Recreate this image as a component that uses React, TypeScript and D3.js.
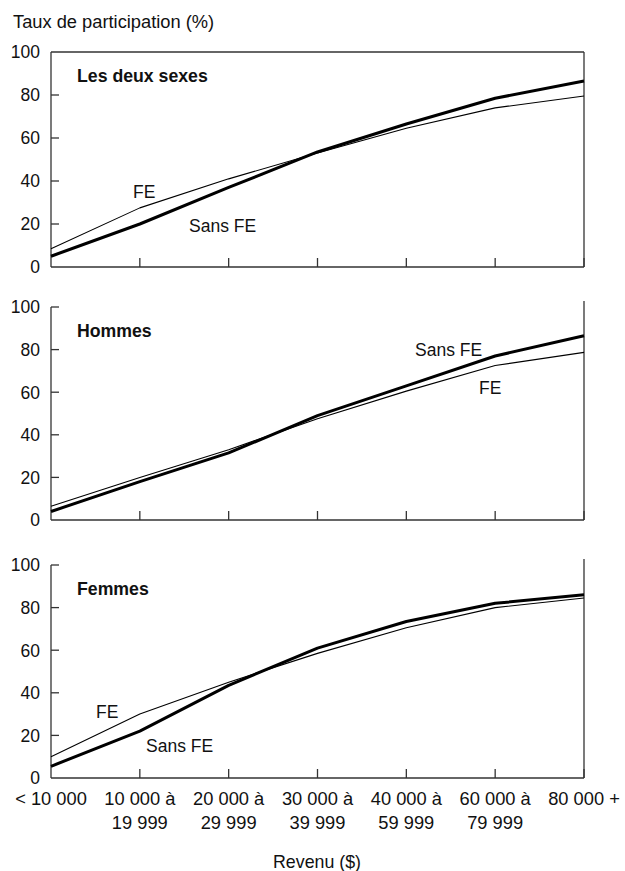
import React from "react";
import * as d3 from "d3";

// Income brackets (x categories), first and second label lines
const categories = ["<10k", "10-20k", "20-30k", "30-40k", "40-60k", "60-80k", "80k+"];
const labelLine1 = ["< 10 000", "10 000 à", "20 000 à", "30 000 à", "40 000 à", "60 000 à", "80 000 +"];
const labelLine2 = ["", "19 999", "29 999", "39 999", "59 999", "79 999", ""];

// Participation rates (%)
const bothSansFE = [5, 20, 37, 53.5, 66.5, 78.5, 86.5];
const bothFE = [8.5, 27.5, 41, 53, 64.5, 74, 79.5];
const menSansFE = [4, 18, 31.5, 49, 63, 77, 86.5];
const menFE = [6.5, 20, 33, 47.5, 60.5, 72.5, 78.7];
const womenSansFE = [5.5, 22, 43.5, 61, 73.5, 82, 86];
const womenFE = [10, 30, 45, 58.5, 70.5, 80, 84.5];

const yTicks = [0, 20, 40, 60, 80, 100];

const FONT = "'Liberation Sans', Arial, Helvetica, sans-serif";

type Note = { text: string; x: number; y: number };

const panels = [
  {
    title: "Les deux sexes",
    sans: bothSansFE,
    fe: bothFE,
    top: 52,
    bottom: 267,
    frameTop: true,
    notes: [
      { text: "FE", x: 133, y: 198 },
      { text: "Sans FE", x: 189, y: 232 },
    ] as Note[],
  },
  {
    title: "Hommes",
    sans: menSansFE,
    fe: menFE,
    top: 307,
    bottom: 520,
    frameTop: false,
    notes: [
      { text: "Sans FE", x: 415, y: 356 },
      { text: "FE", x: 479, y: 394 },
    ] as Note[],
  },
  {
    title: "Femmes",
    sans: womenSansFE,
    fe: womenFE,
    top: 565,
    bottom: 778,
    frameTop: false,
    notes: [
      { text: "FE", x: 96, y: 718 },
      { text: "Sans FE", x: 146, y: 752 },
    ] as Note[],
  },
];

const X0 = 51;
const X1 = 584;

export default function App() {
  const x = d3.scalePoint<string>().domain(categories).range([X0, X1]);
  const axisColor = "#333";

  return (
    <svg
      width={625}
      height={871}
      style={{ position: "absolute", left: 0, top: 0, background: "#fff" }}
      fontFamily={FONT}
    >
      <text x={13} y={27.5} fontSize={18.3} fill="#111">
        Taux de participation (%)
      </text>

      {panels.map((p, pi) => {
        const y = d3.scaleLinear().domain([0, 100]).range([p.bottom, p.top]);
        const line = d3
          .line<number>()
          .x((_, i) => x(categories[i]) as number)
          .y((d) => y(d));
        return (
          <g key={pi}>
            {/* frame */}
            <line x1={X0} x2={X0} y1={p.top} y2={p.bottom} stroke={axisColor} strokeWidth={1.3} />
            <line x1={X0} x2={X1} y1={p.bottom} y2={p.bottom} stroke={axisColor} strokeWidth={1.3} />
            <line
              x1={X1}
              x2={X1}
              y1={p.frameTop ? p.top : p.top - 6}
              y2={p.bottom}
              stroke={axisColor}
              strokeWidth={1.3}
            />
            {p.frameTop && (
              <line x1={X0} x2={X1} y1={p.top} y2={p.top} stroke={axisColor} strokeWidth={1.3} />
            )}
            {/* y ticks */}
            {yTicks.map((t) => (
              <g key={t}>
                {t > 0 && (t < 100 || !p.frameTop) && (
                  <line x1={X0} x2={X0 + 8} y1={y(t)} y2={y(t)} stroke={axisColor} strokeWidth={1.3} />
                )}
                <text
                  x={40}
                  y={y(t)}
                  dy="0.36em"
                  textAnchor="end"
                  fontSize={17.5}
                  fill="#111"
                >
                  {t}
                </text>
              </g>
            ))}
            {/* x ticks */}
            {categories.slice(1).map((c) => (
              <line
                key={c}
                x1={x(c)}
                x2={x(c)}
                y1={p.bottom}
                y2={p.bottom - 9}
                stroke={axisColor}
                strokeWidth={1.3}
              />
            ))}
            {/* series */}
            <path d={line(p.fe) ?? ""} fill="none" stroke="#000" strokeWidth={1.1} strokeLinejoin="round" />
            <path d={line(p.sans) ?? ""} fill="none" stroke="#000" strokeWidth={3} strokeLinejoin="round" />
            {/* titles and notes */}
            <text x={77} y={p.top + 30} fontSize={17.7} fontWeight="bold" fill="#111">
              {p.title}
            </text>
            {p.notes.map((n, ni) => (
              <text key={ni} x={n.x} y={n.y} fontSize={17.5} fill="#111">
                {n.text}
              </text>
            ))}
          </g>
        );
      })}

      {/* x labels */}
      {categories.map((c, i) => (
        <g key={c}>
          <text x={x(c)} y={805} textAnchor="middle" fontSize={18.3} fill="#111">
            {labelLine1[i]}
          </text>
          {labelLine2[i] && (
            <text x={x(c)} y={829} textAnchor="middle" fontSize={18.3} fill="#111">
              {labelLine2[i]}
            </text>
          )}
        </g>
      ))}
      <text x={317} y={868} textAnchor="middle" fontSize={17.8} fill="#111">
        Revenu ($)
      </text>
    </svg>
  );
}
